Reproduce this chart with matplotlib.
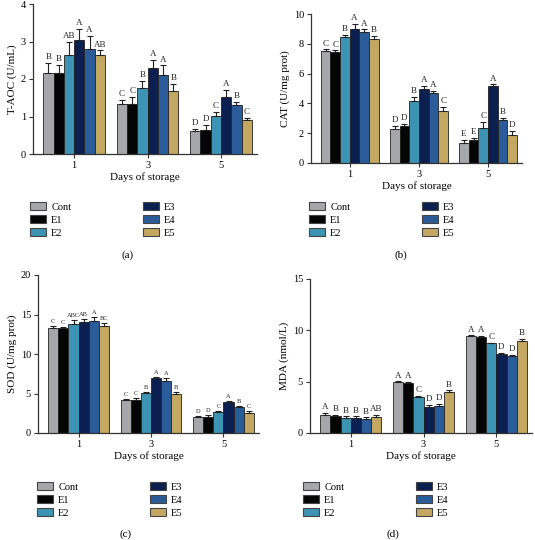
import matplotlib
matplotlib.use("Agg")
import matplotlib.pyplot as plt
import numpy as np
from matplotlib.patches import Patch

plt.rcParams["font.family"] = ["Liberation Serif", "DejaVu Serif"]

# ── Data ─────────────────────────────────────────────────────────────────────
days = ["1", "3", "5"]
groups = ["Cont", "E1", "E2", "E3", "E4", "E5"]
colors = ["#a5a7aa", "#050505", "#3d93b4", "#0b2050", "#2a5c9a", "#c4a862"]

# rows = groups (Cont..E5), columns = days (1, 3, 5)
taoc = [[2.17, 1.34, 0.61], [2.17, 1.34, 0.64], [2.65, 1.77, 1.01],
        [3.04, 2.29, 1.52], [2.80, 2.12, 1.32], [2.64, 1.68, 0.90]]
taoc_err = [[0.25, 0.11, 0.07], [0.20, 0.18, 0.14], [0.35, 0.18, 0.11],
            [0.29, 0.22, 0.18], [0.36, 0.24, 0.07], [0.12, 0.20, 0.07]]
taoc_sig = [["B", "C", "D"], ["B", "C", "D"], ["AB", "B", "C"],
            ["A", "A", "A"], ["A", "A", "B"], ["AB", "B", "C"]]

cat = [[7.51, 2.31, 1.35], [7.47, 2.49, 1.52], [8.43, 4.15, 2.35],
       [8.97, 5.00, 5.16], [8.79, 4.69, 2.87], [8.32, 3.48, 1.88]]
cat_err = [[0.11, 0.18, 0.22], [0.09, 0.16, 0.18], [0.16, 0.29, 0.41],
           [0.36, 0.16, 0.11], [0.18, 0.15, 0.18], [0.22, 0.29, 0.25]]
cat_sig = [["C", "D", "E"], ["C", "D", "E"], ["B", "B", "C"],
           ["A", "A", "A"], ["A", "A", "B"], ["B", "C", "D"]]

sod = [[13.25, 4.18, 2.03], [13.25, 4.18, 2.07], [13.75, 5.02, 2.62],
       [14.09, 6.92, 3.88], [14.18, 6.62, 3.29], [13.54, 4.94, 2.57]]
sod_err = [[0.34, 0.17, 0.16], [0.21, 0.25, 0.17], [0.55, 0.13, 0.16],
           [0.38, 0.21, 0.17], [0.46, 0.30, 0.17], [0.43, 0.21, 0.21]]
sod_sig = [["C", "C", "D"], ["C", "C", "D"], ["ABC", "B", "C"],
           ["AB", "A", "A"], ["A", "A", "B"], ["BC", "B", "C"]]

mda = [[1.78, 4.95, 9.45], [1.62, 4.85, 9.39], [1.46, 3.53, 8.74],
       [1.46, 2.56, 7.70], [1.36, 2.65, 7.54], [1.52, 3.95, 9.00]]
mda_err = [[0.16, 0.07, 0.06], [0.16, 0.10, 0.09], [0.16, 0.06, 0.06],
           [0.16, 0.16, 0.13], [0.16, 0.17, 0.10], [0.20, 0.19, 0.16]]
mda_sig = [["A", "A", "A"], ["B", "A", "A"], ["B", "C", "C"],
           ["B", "D", "D"], ["B", "D", "D"], ["AB", "B", "B"]]

# ── Figure ───────────────────────────────────────────────────────────────────
fig = plt.figure(figsize=(5.35, 5.40), dpi=100)
W, H = 535, 540


def px_axes(l, r, t, b):
    return fig.add_axes([l / W, 1 - b / H, (r - l) / W, (b - t) / H])


panels = [
    # vals, err, sig, ylabel, ymax, ystep, axes box, letter size, legend (x, y), tag pos, tag
    (taoc, taoc_err, taoc_sig, "T-AOC (U/mL)", 4, 1, (33, 257, 4, 154), 6.5,
     (21, 193), (128, 255), "(a)"),
    (cat, cat_err, cat_sig, "CAT (U/mg prot)", 10, 2, (311, 522, 14, 163), 6.5,
     (300, 193), (401, 255), "(b)"),
    (sod, sod_err, sod_sig, "SOD (U/mg prot)", 20, 5, (38, 259, 275, 433), 4.6,
     (28, 473), (126, 534), "(c)"),
    (mda, mda_err, mda_sig, "MDA (nmol/L)", 15, 5, (310, 532, 279, 433), 6.5,
     (294, 473), (393, 534), "(d)"),
]

x = np.arange(len(days))
bw = 0.14

for vals, errs, sigs, ylab, ymax, ystep, box, fs_sig, legpos, tagpos, tag in panels:
    ax = px_axes(*box)
    for i, (g, c) in enumerate(zip(groups, colors)):
        xs = x + (i - 2.5) * bw
        ax.bar(xs, vals[i], width=bw, color=c, edgecolor="#222222", linewidth=0.6,
               zorder=2)
        ax.errorbar(xs, vals[i], yerr=[np.zeros(3), errs[i]], fmt="none",
                    ecolor="#222222", elinewidth=0.8, capsize=2, capthick=0.8, zorder=3)
        for xx, v, e, s in zip(xs, vals[i], errs[i], sigs[i]):
            ax.text(xx, v + e + ymax * 0.012, s, ha="center", va="bottom",
                    fontsize=fs_sig, color="#222222")
    ax.set_xlim(-0.56, 2.49)
    ax.set_ylim(0, ymax)
    ax.set_yticks(np.arange(0, ymax + 0.01, ystep))
    ax.set_xticks(x)
    ax.set_xticklabels(days)
    ax.set_xlabel("Days of storage", fontsize=8, labelpad=2)
    ax.set_ylabel(ylab, fontsize=8, labelpad=3)
    ax.tick_params(labelsize=7.5, width=0.8, length=3, color="#333333", pad=2)
    for s in ["top", "right"]:
        ax.spines[s].set_visible(False)
    for s in ["left", "bottom"]:
        ax.spines[s].set_linewidth(0.9)
        ax.spines[s].set_color("#333333")

    handles = [Patch(facecolor=c, edgecolor="#444444", linewidth=0.8) for c in colors]
    fig.legend(handles, groups, ncol=2, loc="upper left",
               bbox_to_anchor=(legpos[0] / W, 1 - legpos[1] / H), frameon=False,
               fontsize=7.5, handlelength=1.5, handleheight=0.7, handletextpad=0.5,
               columnspacing=6.9, labelspacing=0.35)
    fig.text(tagpos[0] / W, 1 - tagpos[1] / H, tag, ha="center", va="center",
             fontsize=8)

fig.savefig("out.png", dpi=100)
